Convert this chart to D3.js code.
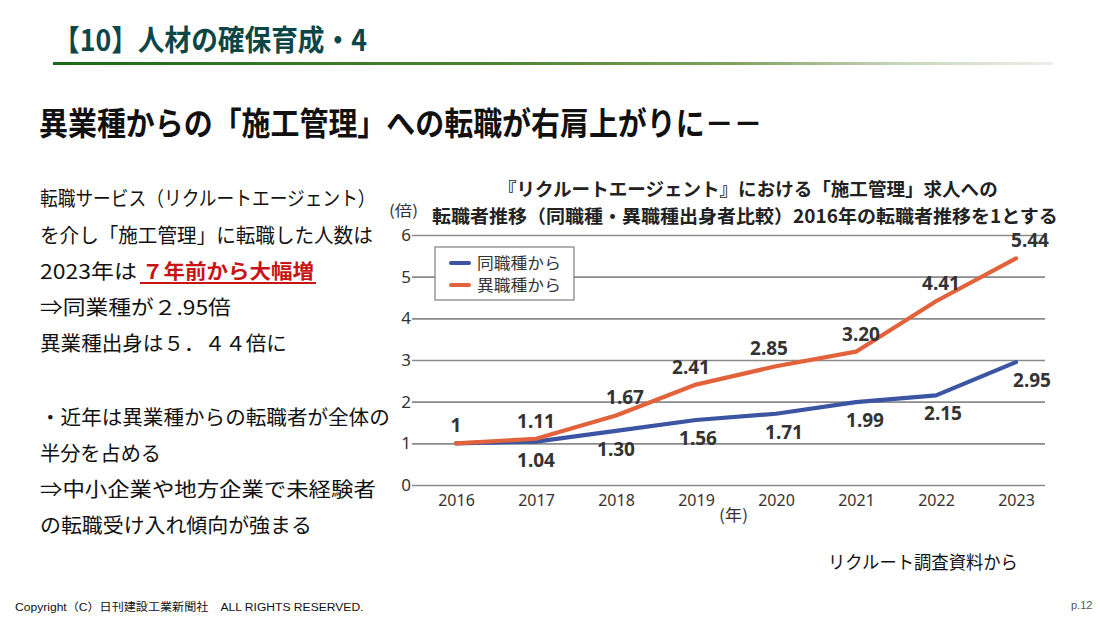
<!DOCTYPE html>
<html><head><meta charset="utf-8">
<script src="https://cdn.jsdelivr.net/npm/d3@7"></script>
<style>
html,body{margin:0;padding:0;background:#fff;}
svg{display:block;font-family:"Noto Sans CJK JP","Noto Sans",sans-serif;}
</style></head>
<body><svg id="c" width="1100" height="618"></svg>
<script>
const years = ["2016","2017","2018","2019","2020","2021","2022","2023"];
const sameJob = [1, 1.04, 1.30, 1.56, 1.71, 1.99, 2.15, 2.95];
const diffJob = [1, 1.11, 1.67, 2.41, 2.85, 3.20, 4.41, 5.44];
const sameLabels = ["", "1.04", "1.30", "1.56", "1.71", "1.99", "2.15", "2.95"];
const diffLabels = ["1", "1.11", "1.67", "2.41", "2.85", "3.20", "4.41", "5.44"];
const yTicks = [0,1,2,3,4,5,6];
const seriesNames = ["同職種から", "異職種から"];
const seriesColors = ["#3b55a3", "#e2633b"];

const pageTitle = "【10】人材の確保育成・4";
const headline = "異業種からの「施工管理」への転職が右肩上がりに－－";
const chartTitle1 = "『リクルートエージェント』における「施工管理」求人への";
const chartTitle2 = "転職者推移（同職種・異職種出身者比較）2016年の転職者推移を1とする";

const svg = d3.select("#c");

// place a text so that its rendered width is exactly w (horizontal scale via transform)
function fitText(parent, str, x, y, w, opts) {
  opts = opts || {};
  const g = parent.append("g");
  const t = g.append("text").attr("x",0).attr("y",0).text(str);
  Object.entries(opts).forEach(([k,v])=>t.attr(k,v));
  const n = t.node().getComputedTextLength();
  g.attr("transform", `translate(${x},${y}) scale(${w / n},1)`);
  return t;
}

// header
const defs = svg.append("defs");
const g1 = defs.append("linearGradient").attr("id","hl").attr("x1","0").attr("x2","1");
g1.append("stop").attr("offset","0").attr("stop-color","#1b6a1b");
g1.append("stop").attr("offset","0.45").attr("stop-color","#4f8430");
g1.append("stop").attr("offset","0.68").attr("stop-color","#7fa260");
g1.append("stop").attr("offset","0.85").attr("stop-color","#c9d6bb");
g1.append("stop").attr("offset","1").attr("stop-color","#eeeeea");
svg.append("rect").attr("x",53).attr("y",62).attr("width",1000).attr("height",3).attr("fill","url(#hl)");
fitText(svg, pageTitle, 53, 51, 314, {"font-size":29, "font-weight":700, fill:"#0c4646"});
fitText(svg, headline, 39, 135, 724, {"font-size":32, "font-weight":700, fill:"#111"});

// left text
const leftLines = [
  {t:"転職サービス（リクルートエージェント）", y:206, w:336},
  {t:"を介し「施工管理」に転職した人数は", y:243, w:333},
  {t:null, y:279},
  {t:"⇒同業種が２.95倍", y:315, w:191},
  {t:"異業種出身は５．４４倍に", y:351, w:247},
  {t:"・近年は異業種からの転職者が全体の", y:425, w:350},
  {t:"半分を占める", y:461, w:121},
  {t:"⇒中小企業や地方企業で未経験者", y:497, w:336},
  {t:"の転職受け入れ傾向が強まる", y:533, w:272}
];
leftLines.forEach(l=>{
  if(l.t){
    fitText(svg, l.t, 40, l.y, l.w, {"font-size":20, fill:"#111"});
  } else {
    fitText(svg, "2023年は", 40, l.y, 97, {"font-size":20, fill:"#111"});
    fitText(svg, "７年前から大幅増", 142, l.y, 172, {"font-size":20, "font-weight":700, fill:"#c81414"});
    svg.append("rect").attr("x",140).attr("y",l.y+3).attr("width",176).attr("height",2).attr("fill","#c81414");
  }
});

// chart
const x = d3.scalePoint().domain(years).range([456,1016]);
const y = d3.scaleLinear().domain([0,6]).range([485,235]);

const yAxis = svg.append("g").attr("transform","translate(412,0)")
  .call(d3.axisRight(y).tickValues(yTicks).tickSize(633).tickFormat(d3.format("d")));
yAxis.select(".domain").remove();
yAxis.selectAll(".tick line").attr("stroke","#8a8a8a").attr("stroke-width",1.6);
yAxis.selectAll(".tick text").attr("x",-1).attr("text-anchor","end").attr("font-size",17)
  .attr("fill","#333").attr("dy","0.33em").attr("font-family","Noto Sans, sans-serif");

const xAxis = svg.append("g").attr("transform","translate(0,485)")
  .call(d3.axisBottom(x).tickSize(0).tickPadding(10));
xAxis.select(".domain").remove();
xAxis.selectAll(".tick text").attr("font-size",16).attr("fill","#333").attr("font-family","Noto Sans, sans-serif");

fitText(svg, "(倍)", 389, 216, 29, {"font-size":15, fill:"#333"});
fitText(svg, "(年)", 719, 521, 29, {"font-size":16, fill:"#333"});

fitText(svg, chartTitle1, 498, 196, 500, {"font-size":18.5, "font-weight":700, fill:"#222"});
fitText(svg, chartTitle2, 432, 223, 626, {"font-size":18.5, "font-weight":700, fill:"#222"});

const line = d3.line().x((d,i)=>x(years[i])).y(d=>y(d));
[sameJob, diffJob].forEach((s,k)=>{
  svg.append("path").attr("d",line(s)).attr("fill","none").attr("stroke",seriesColors[k])
    .attr("stroke-width",4.2).attr("stroke-linejoin","round").attr("stroke-linecap","round");
});

// data labels
const diffDx = [0,0,9,-5,-7,5,5,14];
const sameDx = [0,0,0,2,8,9,7,16];
function lbl(xx, yy, t){
  svg.append("text").attr("x",xx).attr("y",yy).attr("text-anchor","middle")
    .attr("font-size",19).attr("font-weight",700).attr("fill","#333")
    .attr("font-family","Noto Sans, sans-serif").text(t);
}
diffJob.forEach((v,i)=> lbl(x(years[i])+diffDx[i], y(v)-11, diffLabels[i]));
sameJob.forEach((v,i)=>{ if(sameLabels[i]) lbl(x(years[i])+sameDx[i], y(v)+25, sameLabels[i]); });

// legend
const lg = svg.append("g");
lg.append("rect").attr("x",435).attr("y",247).attr("width",139).attr("height",53).attr("fill","#fff").attr("stroke","#888").attr("stroke-width",1.3);
seriesNames.forEach((n,i)=>{
  const yy = 263 + i*22;
  lg.append("line").attr("x1",451).attr("x2",469).attr("y1",yy).attr("y2",yy).attr("stroke",seriesColors[i]).attr("stroke-width",4).attr("stroke-linecap","round");
  fitText(lg, n, 477, yy+6, 84, {"font-size":15.5, fill:"#333"});
});

// footer
fitText(svg, "リクルート調査資料から", 828, 569, 190, {"font-size":18, fill:"#111"});
fitText(svg, "Copyright（C）日刊建設工業新聞社　ALL RIGHTS RESERVED.", 15, 611, 349,
  {"font-size":11, fill:"#111", "font-family":"Liberation Sans, Noto Sans CJK JP, sans-serif"});
svg.append("text").attr("x",1071).attr("y",609).attr("font-size",11).attr("fill","#555")
  .attr("font-family","Liberation Sans, sans-serif").text("p.12");
</script></body></html>
